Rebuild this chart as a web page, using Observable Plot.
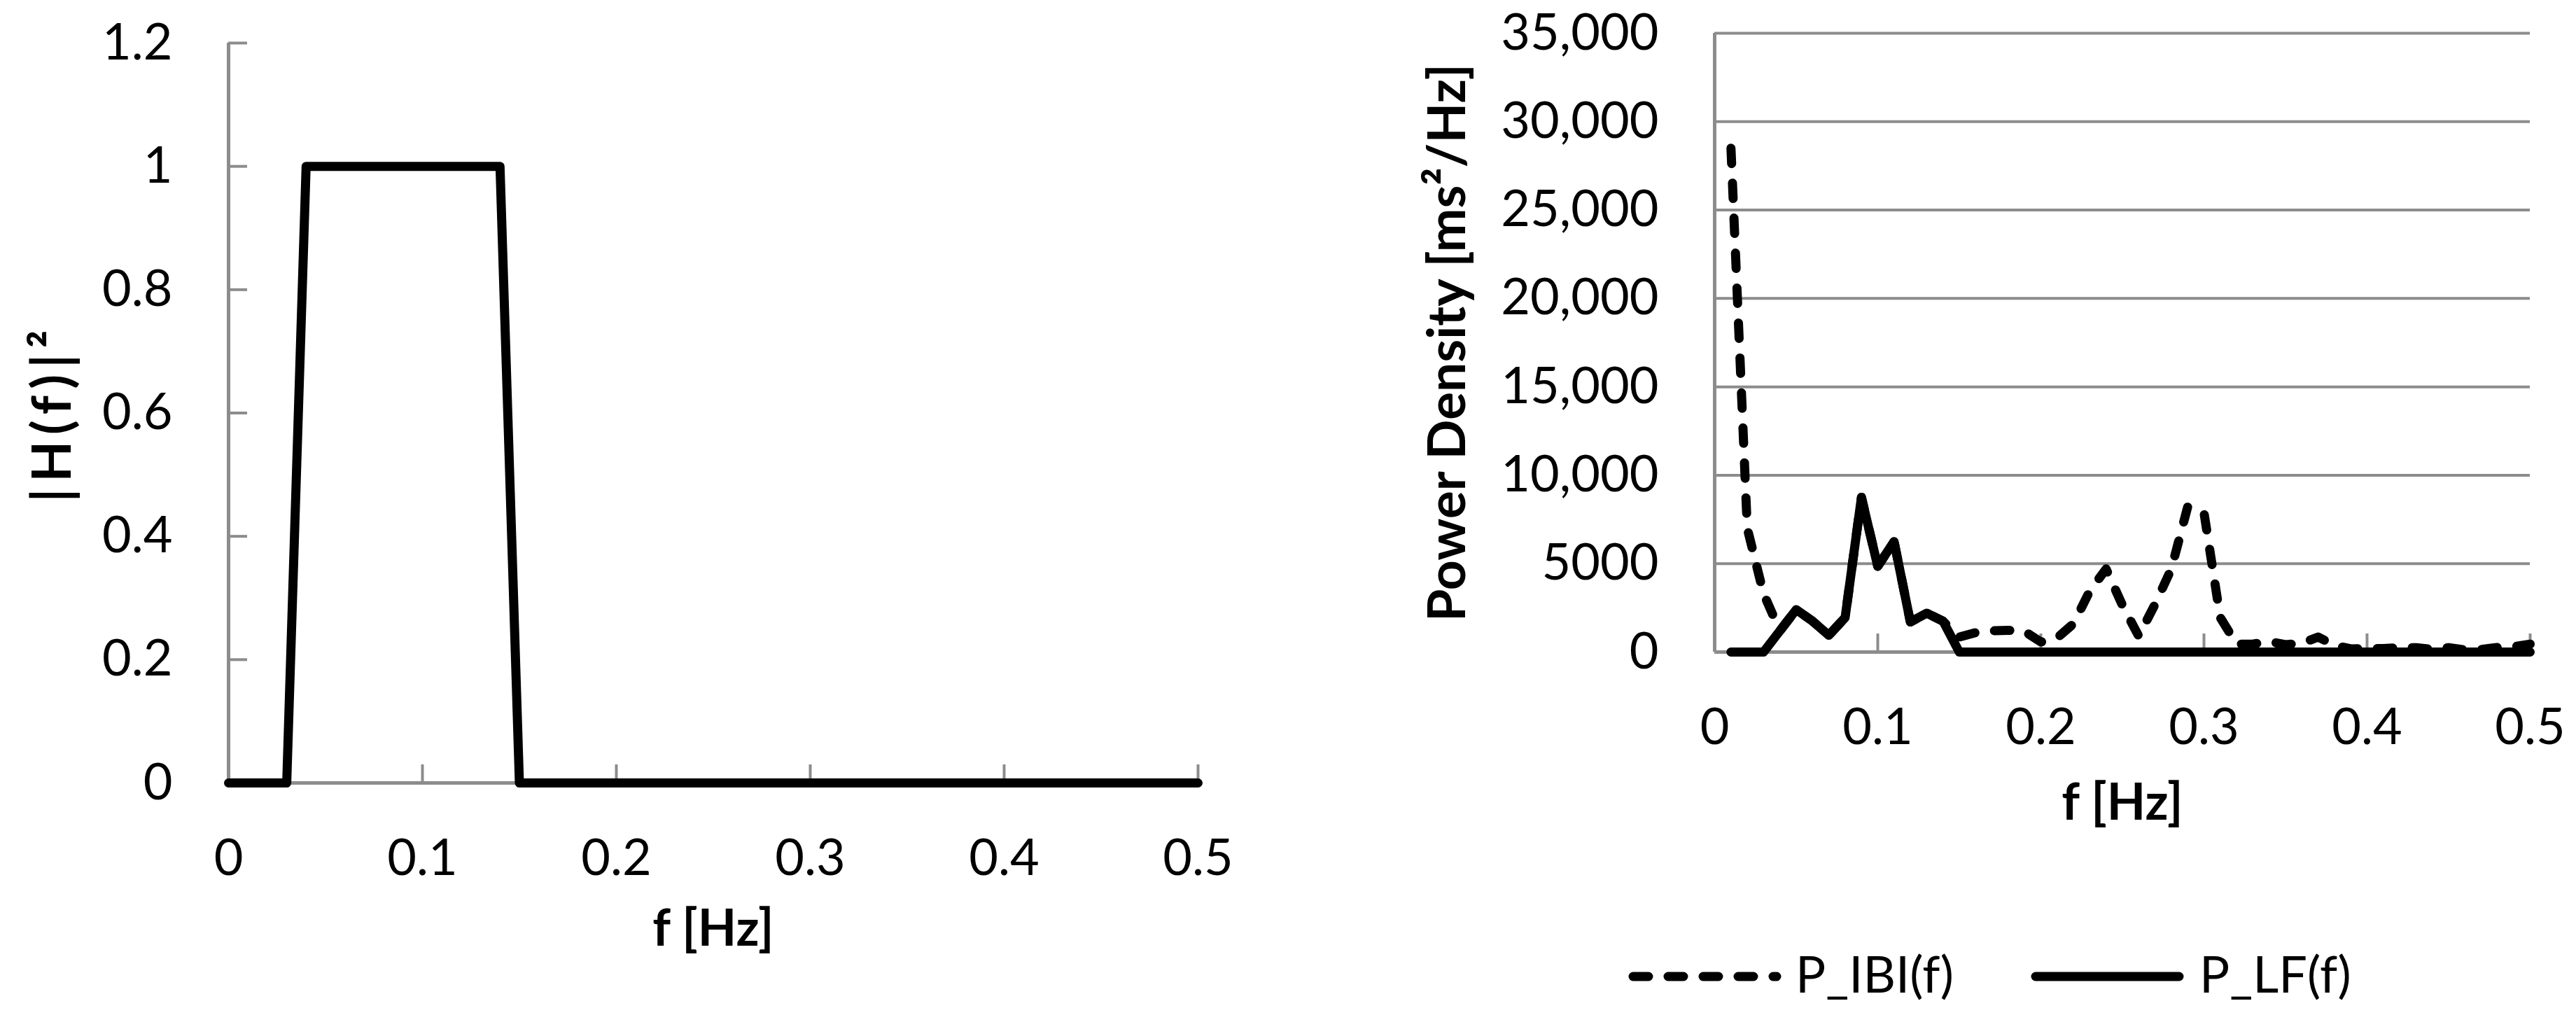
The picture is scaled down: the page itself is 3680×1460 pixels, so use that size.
<!DOCTYPE html>
<html>
<head>
<meta charset="utf-8">
<script src="https://cdn.jsdelivr.net/npm/d3@7"></script>
<script src="https://cdn.jsdelivr.net/npm/@observablehq/plot@0.6"></script>
<style>
  html, body { margin: 0; padding: 0; background: #fff; overflow: hidden; }
  #wrap { position: relative; width: 3680px; height: 1460px; background: #fff; }
  #left, #right { position: absolute; top: 0; width: 1840px; height: 1460px; }
  #left { left: 0; }
  #right { left: 1840px; }
  #legend { position: absolute; left: 0; top: 1340px; }
  svg { max-width: none !important; }
</style>
</head>
<body>
<div id="wrap">
  <div id="left"></div>
  <div id="right"></div>
  <div id="legend"></div>
</div>
<script>
// ---------- data ----------
// Left chart: filter response |H(f)|^2
const freqH = [0, 0.03, 0.04, 0.14, 0.15, 0.5];
const gainH = [0, 0, 1, 1, 0, 0];

// Right chart: power spectral densities
const freq = [0.01, 0.02, 0.03, 0.04, 0.05, 0.06, 0.07, 0.08, 0.09, 0.10,
              0.11, 0.12, 0.13, 0.14, 0.15, 0.16, 0.17, 0.18, 0.19, 0.20,
              0.21, 0.22, 0.23, 0.24, 0.25, 0.26, 0.27, 0.28, 0.29, 0.30,
              0.31, 0.32, 0.33, 0.34, 0.35, 0.36, 0.37, 0.38, 0.39, 0.40,
              0.41, 0.42, 0.43, 0.44, 0.45, 0.46, 0.47, 0.48, 0.49, 0.50];
const pIBI = [28500, 7000, 3300, 1200, 2400, 1750, 950, 1950, 8750, 4850,
              6250, 1700, 2200, 1750, 850, 1100, 1200, 1230, 1170, 570,
              800, 1600, 3450, 4700, 2650, 900, 2700, 4700, 8200, 7900,
              1950, 450, 450, 600, 420, 500, 850, 380, 180, 200,
              200, 250, 250, 150, 250, 120, 150, 260, 300, 450];
const pLF  = [0, 0, 0, 1200, 2400, 1750, 950, 1950, 8750, 4850,
              6250, 1700, 2200, 1750, 0, 0, 0, 0, 0, 0,
              0, 0, 0, 0, 0, 0, 0, 0, 0, 0,
              0, 0, 0, 0, 0, 0, 0, 0, 0, 0,
              0, 0, 0, 0, 0, 0, 0, 0, 0, 0];
const seriesNames = ["P_IBI(f)", "P_LF(f)"];

// ticks and labels
const xTicks = [0, 0.1, 0.2, 0.3, 0.4, 0.5];
const xTickLabels = ["0", "0.1", "0.2", "0.3", "0.4", "0.5"];
const yTicksH = [0, 0.2, 0.4, 0.6, 0.8, 1, 1.2];
const yTickLabelsH = ["0", "0.2", "0.4", "0.6", "0.8", "1", "1.2"];
const yTicksP = [0, 5000, 10000, 15000, 20000, 25000, 30000, 35000];
const yTickLabelsP = ["0", "5000", "10,000", "15,000", "20,000", "25,000", "30,000", "35,000"];

const xTitle = "f [Hz]";
const yTitleH = "|H(f)|²";
const yTitleP = "Power Density [ms²/Hz]";

// ---------- styles ----------
const GRAY = "#8c8c8c";
const FONT = "Lato, 'Open Sans', sans-serif";
const FS = 72;
const LW = 13;
const DASH = "22,28";

const hData = freqH.map((f, i) => ({f, v: gainH[i]}));
const ibiData = freq.map((f, i) => ({f, v: pIBI[i]}));
const lfData = freq.map((f, i) => ({f, v: pLF[i]}));

const fmt = (ticks, labels) => d => labels[ticks.indexOf(d)];

// ---------- left chart ----------
const left = Plot.plot({
  width: 1840, height: 1460,
  marginLeft: 326, marginRight: 129, marginTop: 61, marginBottom: 342,
  x: {domain: [0, 0.5]},
  y: {domain: [0, 1.2]},
  style: {fontFamily: FONT, fontSize: FS + "px", color: "#000", background: "transparent"},
  marks: [
    Plot.ruleX([0], {stroke: GRAY, strokeWidth: 5}),
    Plot.ruleY([0], {stroke: GRAY, strokeWidth: 5}),
    Plot.ruleX(xTicks.slice(1), {x: d => d, y1: 0, y2: 0, insetTop: -26, stroke: GRAY, strokeWidth: 4}),
    Plot.ruleY(yTicksH.slice(1), {y: d => d, x1: 0, x2: 0, insetRight: -27, stroke: GRAY, strokeWidth: 4}),
    Plot.axisX({ticks: xTicks, tickSize: 0, tickPadding: 80, tickFormat: fmt(xTicks, xTickLabels), label: null}),
    Plot.axisY({ticks: yTicksH, tickSize: 0, tickPadding: 80, tickFormat: fmt(yTicksH, yTickLabelsH), label: null}),
    Plot.line(hData, {x: "f", y: "v", stroke: "#000", strokeWidth: LW, strokeLinejoin: "round", strokeLinecap: "round"}),
    Plot.text([xTitle], {text: d => d, frameAnchor: "bottom", dy: 232, fontWeight: "bold", fontSize: FS}),
    Plot.text([yTitleH], {text: d => d, frameAnchor: "middle", dx: -942, rotate: -90,
      fontWeight: "bold", fontSize: 76})
  ]
});
document.getElementById("left").appendChild(left);
d3.select(left).selectAll("text")
  .filter(function() { return this.textContent === yTitleH; })
  .attr("letter-spacing", "9px");

// ---------- right chart ----------
const right = Plot.plot({
  width: 1840, height: 1460,
  marginLeft: 609, marginRight: 66, marginTop: 47, marginBottom: 529,
  x: {domain: [0, 0.5]},
  y: {domain: [0, 35000]},
  style: {fontFamily: FONT, fontSize: FS + "px", color: "#000", background: "transparent"},
  marks: [
    Plot.ruleY(yTicksP.slice(1), {y: d => d, stroke: GRAY, strokeWidth: 4}),
    Plot.ruleX([0], {stroke: GRAY, strokeWidth: 5}),
    Plot.ruleY([0], {stroke: GRAY, strokeWidth: 5}),
    Plot.ruleX(xTicks.slice(1), {x: d => d, y1: 0, y2: 0, insetTop: -26, stroke: GRAY, strokeWidth: 4}),
    Plot.axisX({ticks: xTicks, tickSize: 0, tickPadding: 80, tickFormat: fmt(xTicks, xTickLabels), label: null}),
    Plot.axisY({ticks: yTicksP, tickSize: 0, tickPadding: 80, tickFormat: fmt(yTicksP, yTickLabelsP), label: null}),
    Plot.line(ibiData, {x: "f", y: "v", stroke: "#000", strokeWidth: LW, strokeDasharray: DASH, strokeLinejoin: "round", strokeLinecap: "round"}),
    Plot.line(lfData, {x: "f", y: "v", stroke: "#000", strokeWidth: LW, strokeLinejoin: "round", strokeLinecap: "round"}),
    Plot.text([xTitle], {text: d => d, frameAnchor: "bottom", dy: 239, fontWeight: "bold", fontSize: FS}),
    Plot.text([yTitleP], {text: d => d, frameAnchor: "middle", dx: -963, rotate: -90,
      fontWeight: "bold", fontSize: 75})
  ]
});
document.getElementById("right").appendChild(right);

// ---------- legend ----------
const lg = d3.select("#legend").append("svg")
  .attr("width", 3680).attr("height", 120)
  .style("font-family", FONT).style("font-size", FS + "px");
const items = [
  {name: seriesNames[0], x1: 2333, x2: 2538, tx: 2565, dash: DASH},
  {name: seriesNames[1], x1: 2908, x2: 3113, tx: 3142, dash: null}
];
for (const it of items) {
  lg.append("line")
    .attr("x1", it.x1).attr("x2", it.x2).attr("y1", 55).attr("y2", 55)
    .attr("stroke", "#000").attr("stroke-width", LW).attr("stroke-linecap", "round")
    .attr("stroke-dasharray", it.dash);
  lg.append("text").attr("x", it.tx).attr("y", 78).attr("fill", "#000").text(it.name);
}
</script>
</body>
</html>
